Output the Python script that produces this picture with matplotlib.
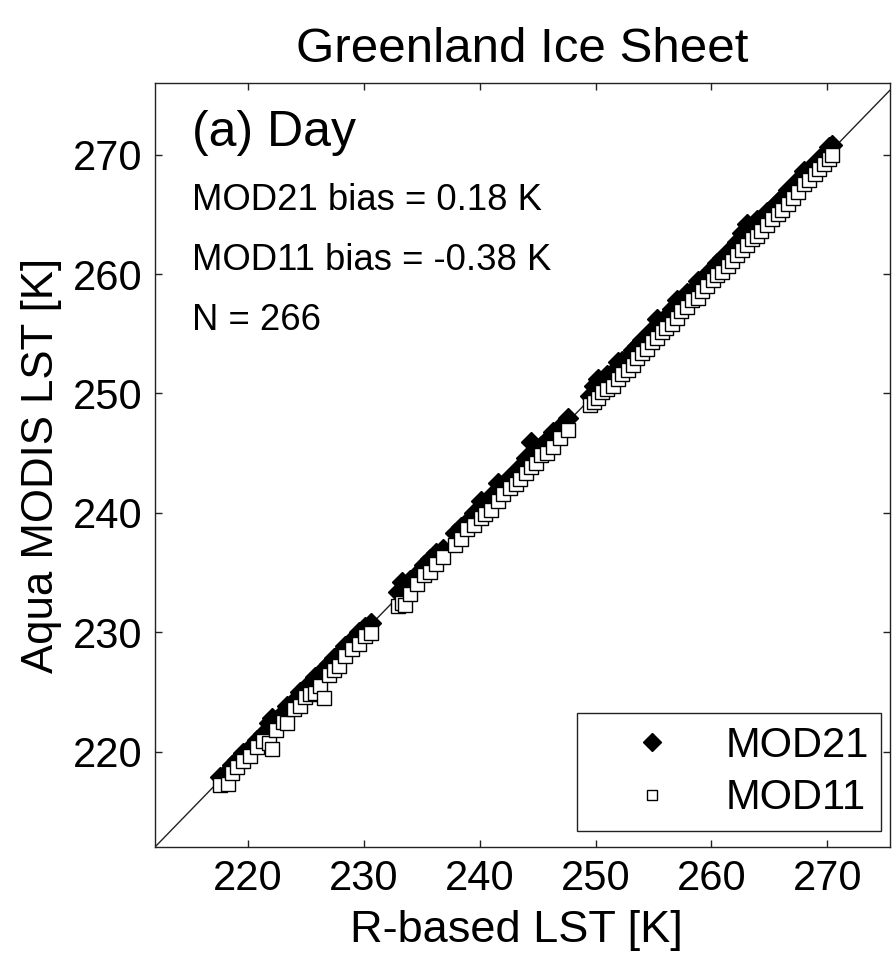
import matplotlib
matplotlib.use("Agg")
from matplotlib import pyplot as plt

plt.rcParams['font.family'] = ['Liberation Sans', 'DejaVu Sans']

# R-based LST [K] and matching Aqua MODIS LST [K]
r_lst = [217.6, 218.3, 218.6, 219.1, 219.6, 220.2, 220.8, 221.3, 221.8, 222.1,
         222.4, 223.0, 223.4, 224.0, 224.5, 224.9, 225.4, 225.8, 226.2, 226.6,
         227.0, 227.4, 227.9, 228.4, 229.0, 229.6, 230.1, 230.6, 233.0, 233.3,
         233.6, 234.0, 234.6, 235.2, 235.7, 236.2, 236.8, 237.9, 238.4, 238.9,
         239.5, 240.1, 240.5, 241.0, 241.6, 242.0, 242.6, 243.1, 243.5, 244.0,
         244.4, 244.9, 245.3, 245.8, 246.3, 246.9, 247.6, 249.5, 249.9, 250.2,
         250.6, 251.0, 251.5, 251.9, 252.3, 252.8, 253.2, 253.6, 254.0, 254.4,
         254.9, 255.3, 255.7, 256.1, 256.6, 257.0, 257.4, 257.9, 258.3, 258.8,
         259.2, 259.6, 260.1, 260.5, 260.9, 261.4, 261.8, 262.2, 262.6, 263.1,
         263.5, 263.9, 264.3, 264.8, 265.2, 265.7, 266.1, 266.6, 267.0, 267.5,
         268.0, 268.4, 268.9, 269.3, 269.7, 270.1, 270.4]
mod21 = [217.9, 218.4, 218.9, 219.3, 219.9, 220.3, 221.0, 221.5, 222.4, 222.8,
         222.6, 223.2, 223.8, 224.2, 225.0, 225.3, 225.6, 226.2, 226.5, 226.9,
         227.3, 227.8, 228.2, 228.8, 229.3, 230.0, 230.4, 230.8, 233.4, 234.2,
         233.9, 234.4, 234.9, 235.6, 236.1, 236.6, 237.0, 238.3, 238.8, 239.2,
         240.0, 241.0, 240.8, 241.4, 242.5, 242.3, 243.0, 243.4, 243.8, 244.6,
         245.9, 245.2, 245.6, 246.1, 246.8, 247.2, 247.9, 249.8, 250.6, 251.2,
         250.9, 251.5, 251.8, 252.6, 252.7, 253.0, 253.6, 254.0, 254.5, 254.8,
         255.3, 256.2, 256.0, 256.4, 257.1, 257.8, 257.7, 258.4, 258.6, 259.4,
         259.5, 260.0, 260.4, 260.9, 261.3, 261.7, 262.2, 262.7, 263.4, 264.2,
         263.8, 264.5, 264.6, 265.2, 265.5, 266.0, 266.4, 267.0, 267.3, 267.9,
         268.6, 268.8, 269.2, 269.6, 270.0, 270.6, 270.8]
mod11 = [217.2, 217.3, 218.2, 218.7, 219.2, 219.6, 220.4, 220.9, 220.7, 220.2,
         221.8, 222.5, 222.4, 223.6, 223.8, 224.6, 224.8, 224.9, 225.5, 224.5,
         226.4, 226.8, 227.2, 228.0, 228.6, 229.0, 229.7, 229.9, 232.2, 232.4,
         232.3, 233.2, 234.0, 234.8, 235.0, 235.7, 236.3, 237.3, 237.8, 238.6,
         239.0, 239.6, 239.9, 240.2, 241.0, 241.6, 242.1, 242.4, 242.8, 243.3,
         243.8, 244.2, 244.8, 245.0, 245.5, 246.3, 246.9, 249.0, 249.3, 249.6,
         250.1, 250.4, 250.6, 251.2, 251.6, 252.0, 252.4, 253.0, 253.4, 253.7,
         254.3, 254.6, 255.1, 255.5, 255.8, 256.3, 256.9, 257.2, 257.8, 258.0,
         258.6, 259.0, 259.5, 259.9, 260.2, 260.7, 261.1, 261.6, 262.0, 262.4,
         262.9, 263.2, 263.6, 264.1, 264.6, 265.0, 265.4, 265.9, 266.4, 266.9,
         267.5, 267.9, 268.4, 268.8, 269.2, 269.6, 270.0]

ticks = [220, 230, 240, 250, 260, 270]
xlim = (212, 275.4)
ylim = (212, 276)

fig = plt.figure(figsize=(8.92, 9.56), dpi=100)
ax = fig.add_axes([155 / 892, 1 - 847 / 956, 735 / 892, 764 / 956])

ax.plot([ylim[0], ylim[1]], [ylim[0], ylim[1]], color='#222222', lw=1.0, zorder=1)
ax.plot(r_lst, mod21, linestyle='none', marker='D', ms=10, mfc='black', mec='black',
        label='MOD21', zorder=2)
ax.plot(r_lst, mod11, linestyle='none', marker='s', ms=9.5, mfc='white', mec='black',
        mew=1.0, label='MOD11', zorder=3)

ax.set_xlim(xlim)
ax.set_ylim(ylim)
ax.set_xticks(ticks)
ax.set_yticks(ticks)
ax.tick_params(direction='in', length=5, width=1, top=True, right=True,
               labelsize=30, colors='#222222', labelcolor='black', pad=9)
for s in ax.spines.values():
    s.set_linewidth(1.0)
    s.set_color('#222222')

ax.set_xlabel('R-based LST [K]', fontsize=32.5)
ax.set_ylabel('Aqua MODIS LST [K]', fontsize=31.5)
ax.xaxis.set_label_coords(0.492, -0.083)
ax.yaxis.set_label_coords(-0.127, 0.5)

ax.text(0.05, 0.9175, '(a) Day', fontsize=36, va='baseline', transform=ax.transAxes)
ax.text(0.05, 0.8338, 'MOD21 bias = 0.18 K', fontsize=26.3, va='baseline', transform=ax.transAxes)
ax.text(0.05, 0.7552, 'MOD11 bias = -0.38 K', fontsize=26.3, va='baseline', transform=ax.transAxes)
ax.text(0.05, 0.6767, 'N = 266', fontsize=26.3, va='baseline', transform=ax.transAxes)

fig.text(522 / 892, 1 - 62 / 956, 'Greenland Ice Sheet', fontsize=35.5, ha='center', va='baseline')

leg = ax.legend(loc='lower right', bbox_to_anchor=(0.988, 0.021), borderaxespad=0,
                fontsize=30, frameon=True, fancybox=False, edgecolor='#222222',
                handlelength=3.0, handletextpad=0.25, borderpad=0.3, labelspacing=0.3)
leg.get_frame().set_linewidth(1.0)
leg.get_frame().set_alpha(1)
leg.legend_handles[0].set_markersize(9.2)
leg.legend_handles[1].set_markersize(7.2)

fig.savefig('out.png', dpi=100)
